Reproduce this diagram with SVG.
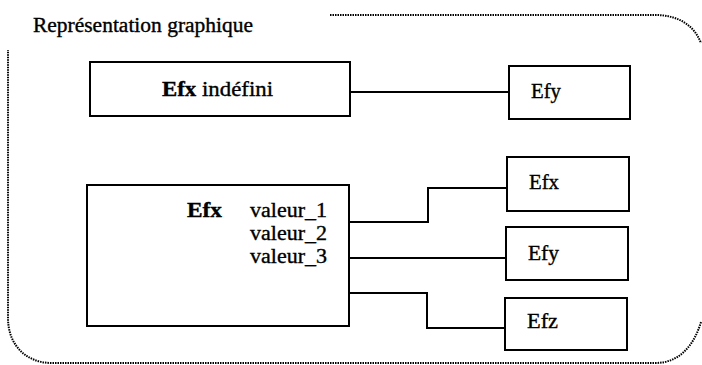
<svg xmlns="http://www.w3.org/2000/svg" width="702" height="365" viewBox="0 0 702 365">
<style>
  .box { fill: #fff; stroke: #000; stroke-width: 2; }
  .t { font-family: 'Liberation Serif', 'DejaVu Serif', 'Times New Roman', Times, serif; font-size: 20px; fill: #000; stroke: #000; stroke-width: 0.35; }
  .b { font-weight: bold; }
  .frame { fill: none; stroke: #000; stroke-width: 2; stroke-dasharray: 1.5 1; }
  .conn { fill: none; stroke: #000; stroke-width: 2; }
</style>
<rect width="702" height="365" fill="#fff"/>
<path class="frame" d="M 330 15 H 655 C 678 15 694 25 701 43 M 701 322 C 694 345 680 363 655 363 H 52 C 26 363 8 345 8 318 V 50"/>
<text class="t" x="33" y="32" font-size="21" textLength="220" lengthAdjust="spacingAndGlyphs">Représentation graphique</text>
<g id="connectors">
  <path class="conn" d="M 350 92 H 509"/>
  <path class="conn" d="M 349 222 H 428 V 188 H 507"/>
  <path class="conn" d="M 349 258 H 506"/>
  <path class="conn" d="M 349 293 H 427 V 328 H 505"/>
</g>
<g id="efx-indefini">
  <rect class="box" x="90" y="62" width="260" height="54"/>
  <text class="t" x="162" y="96" textLength="111" lengthAdjust="spacingAndGlyphs"><tspan class="b">Efx</tspan> indéfini</text>
</g>
<g id="efy-top">
  <rect class="box" x="509" y="66" width="121" height="53"/>
  <text class="t" x="531" y="98" textLength="30" lengthAdjust="spacingAndGlyphs">Efy</text>
</g>
<g id="efx-valeurs">
  <rect class="box" x="87" y="185" width="262" height="141"/>
  <text class="t b" x="187" y="217" textLength="35" lengthAdjust="spacingAndGlyphs">Efx</text>
  <text class="t" x="250" y="217" textLength="77" lengthAdjust="spacingAndGlyphs">valeur_1</text>
  <text class="t" x="250" y="240" textLength="77" lengthAdjust="spacingAndGlyphs">valeur_2</text>
  <text class="t" x="250" y="263" textLength="77" lengthAdjust="spacingAndGlyphs">valeur_3</text>
</g>
<g id="efx-right">
  <rect class="box" x="507" y="157" width="122" height="54"/>
  <text class="t" x="529" y="189" textLength="30" lengthAdjust="spacingAndGlyphs">Efx</text>
</g>
<g id="efy-right">
  <rect class="box" x="506" y="227" width="122" height="53"/>
  <text class="t" x="528" y="260" textLength="31" lengthAdjust="spacingAndGlyphs">Efy</text>
</g>
<g id="efz-right">
  <rect class="box" x="505" y="298" width="122" height="52"/>
  <text class="t" x="527" y="328" textLength="31" lengthAdjust="spacingAndGlyphs">Efz</text>
</g>
</svg>
